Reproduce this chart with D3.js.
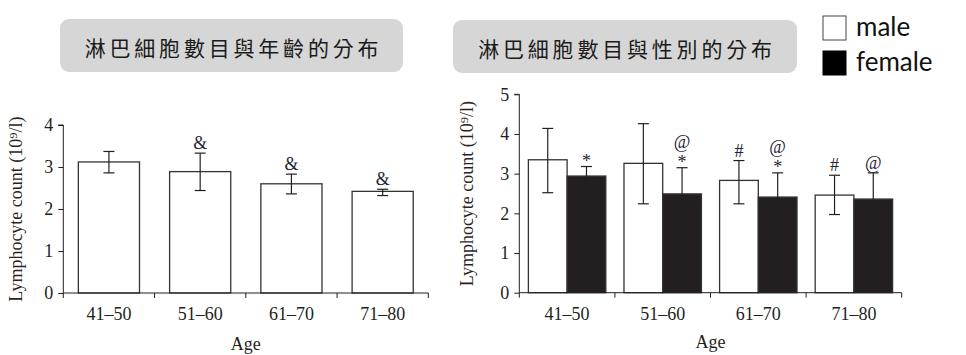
<!DOCTYPE html>
<html><head><meta charset="utf-8">
<script src="https://cdn.jsdelivr.net/npm/d3@7"></script>
<style>
html,body{margin:0;padding:0;background:#fff;}
svg{display:block;}
</style></head>
<body>
<svg id="chart" width="966" height="355"></svg>
<script>
// ---- Data ----
const ageGroups = ["41\u201350", "51\u201360", "61\u201370", "71\u201380"];
const ageMean = [3.12, 2.89, 2.60, 2.42];
const ageErrHigh = [3.37, 3.33, 2.83, 2.47];
const ageErrLow = [2.86, 2.44, 2.36, 2.32];
const ageMarks = [[], ["&"], ["&"], ["&"]];
const ageTicks = [0, 1, 2, 3, 4];

const sexes = ["male", "female"];
const maleMean = [3.35, 3.26, 2.83, 2.46];
const maleErrHigh = [4.14, 4.26, 3.33, 2.96];
const maleErrLow = [2.52, 2.24, 2.24, 1.97];
const maleMarks = [[], [], ["#"], ["#"]];
const femaleMean = [2.94, 2.49, 2.41, 2.36];
const femaleErrHigh = [3.18, 3.15, 3.02, 3.02];
const femaleErrLow = [2.70, 1.83, 1.80, 1.70];
const femaleMarks = [["*"], ["*", "@"], ["*", "@"], ["@"]];
const sexTicks = [0, 1, 2, 3, 4, 5];

const titleLeft = "淋巴細胞數目與年齡的分布";
const titleRight = "淋巴細胞數目與性別的分布";
const yLabel = "Lymphocyte count (10\u2079/l)";
const xLabel = "Age";

// ---- Drawing ----
const svg = d3.select("#chart");
const ink = "#231f20";
const serif = "'Liberation Serif','DejaVu Serif',serif";
const fs = 18;

function titleBox(x, y, w, h, text) {
  svg.append("rect").attr("x", x).attr("y", y).attr("width", w).attr("height", h)
    .attr("rx", 9).attr("fill", "#d6d6d6");
  svg.append("text").attr("x", x + w / 2 + 2).attr("y", y + h / 2 + 1)
    .attr("text-anchor", "middle").attr("dominant-baseline", "central")
    .attr("font-family", "'Noto Sans CJK TC','Noto Sans CJK SC',sans-serif")
    .attr("font-size", 21).attr("letter-spacing", 3.8).attr("fill", "#1a1a1a")
    .text(text);
}

function axes(g, x, y, ticks, xRange, yRange, labelX, ageY) {
  const ya = d3.axisLeft(y).tickValues(ticks).tickSize(5).tickPadding(5).tickFormat(d3.format("d"));
  const gy = g.append("g").attr("transform", `translate(${xRange[0]},0)`).call(ya);
  gy.select(".domain").attr("d", `M-5,${yRange[1]}H0V${yRange[0]}`);
  gy.selectAll("line").attr("stroke", ink);
  gy.select(".domain").attr("stroke", ink);
  gy.selectAll("text").attr("font-family", serif).attr("font-size", fs).attr("fill", ink);
  const gx = g.append("g");
  gx.append("line").attr("x1", xRange[0]).attr("x2", xRange[1])
    .attr("y1", yRange[0]).attr("y2", yRange[0]).attr("stroke", ink);
  const step = x.step();
  d3.range(ageGroups.length + 1).forEach(i => {
    const xx = xRange[0] + i * step;
    gx.append("line").attr("x1", xx).attr("x2", xx).attr("y1", yRange[0]).attr("y2", yRange[0] + 5).attr("stroke", ink);
  });
  gx.selectAll("text.cat").data(x.domain()).join("text").attr("class", "cat")
    .attr("x", d => x(d) + x.bandwidth() / 2).attr("y", yRange[0] + 27)
    .attr("text-anchor", "middle").attr("font-family", serif).attr("font-size", fs).attr("fill", ink)
    .text(d => d);
  g.append("text").attr("x", (xRange[0] + xRange[1]) / 2).attr("y", yRange[0] + ageY)
    .attr("text-anchor", "middle").attr("font-family", serif).attr("font-size", fs).attr("fill", ink)
    .text(xLabel);
  g.append("text").attr("transform", `translate(${labelX},${(yRange[0] + yRange[1]) / 2}) rotate(-90)`)
    .attr("text-anchor", "middle").attr("font-family", serif).attr("font-size", fs).attr("fill", "#2b1f1f")
    .text(yLabel);
}

function errBar(g, cx, yHi, yLo, capW) {
  g.append("line").attr("x1", cx).attr("x2", cx).attr("y1", yHi).attr("y2", yLo).attr("stroke", ink).attr("stroke-width", 1.2);
  g.append("line").attr("x1", cx - capW).attr("x2", cx + capW).attr("y1", yHi).attr("y2", yHi).attr("stroke", ink).attr("stroke-width", 1.2);
  g.append("line").attr("x1", cx - capW).attr("x2", cx + capW).attr("y1", yLo).attr("y2", yLo).attr("stroke", ink).attr("stroke-width", 1.2);
}

function marks(g, cx, yTop, list) {
  list.forEach((m, i) => {
    const extra = m === "*" ? 4 : 0;
    g.append("text").attr("x", cx).attr("y", yTop - 4 - i * 16 + extra)
      .attr("text-anchor", "middle").attr("font-family", serif).attr("font-size", fs).attr("fill", "#1f2533")
      .text(m);
  });
}

// ---- Left chart ----
titleBox(60, 19, 343, 53, titleLeft);
{
  const xr = [63.3, 428.3], yr = [293, 125];
  const x = d3.scaleBand().domain(ageGroups).range(xr).paddingInner(0.33).paddingOuter(0.165);
  const y = d3.scaleLinear().domain([0, 4]).range(yr);
  const g = svg.append("g");
  g.selectAll("rect.bar").data(ageGroups).join("rect").attr("class", "bar")
    .attr("x", d => x(d)).attr("width", x.bandwidth())
    .attr("y", (d, i) => y(ageMean[i])).attr("height", (d, i) => y(0) - y(ageMean[i]))
    .attr("fill", "#fff").attr("stroke", "#333").attr("stroke-width", 1.3);
  ageGroups.forEach((d, i) => {
    const cx = x(d) + x.bandwidth() / 2;
    errBar(g, cx, y(ageErrHigh[i]), y(ageErrLow[i]), 5.5);
    marks(g, cx, y(ageErrHigh[i]), ageMarks[i]);
  });
  axes(g, x, y, ageTicks, xr, yr, 22, 57);
}

// ---- Right chart ----
titleBox(453, 20, 344, 53, titleRight);
{
  const xr = [519.3, 901.7], yr = [292.7, 94.3];
  const x = d3.scaleBand().domain(ageGroups).range(xr).paddingInner(0.19).paddingOuter(0.095);
  const xs = d3.scaleBand().domain(sexes).range([0, x.bandwidth()]);
  const y = d3.scaleLinear().domain([0, 5]).range(yr);
  const g = svg.append("g");
  const series = [
    {key: "male", mean: maleMean, hi: maleErrHigh, lo: maleErrLow, mk: maleMarks, fill: "#fff"},
    {key: "female", mean: femaleMean, hi: femaleErrHigh, lo: femaleErrLow, mk: femaleMarks, fill: "#231f20"}
  ];
  series.forEach(s => {
    g.selectAll("rect.b" + s.key).data(ageGroups).join("rect").attr("class", "b" + s.key)
      .attr("x", d => x(d) + xs(s.key)).attr("width", xs.bandwidth())
      .attr("y", (d, i) => y(s.mean[i])).attr("height", (d, i) => y(0) - y(s.mean[i]))
      .attr("fill", s.fill).attr("stroke", "#333").attr("stroke-width", 1.3);
  });
  series.forEach(s => {
    ageGroups.forEach((d, i) => {
      const cx = x(d) + xs(s.key) + xs.bandwidth() / 2;
      errBar(g, cx, y(s.hi[i]), y(s.lo[i]), 5.5);
      marks(g, cx, y(s.hi[i]), s.mk[i]);
    });
  });
  axes(g, x, y, sexTicks, xr, yr, 473, 55);
}

// ---- Legend ----
const legendFont = "Lato,'Open Sans',sans-serif";
sexes.forEach((s, i) => {
  const yy = 16 + i * 35;
  svg.append("rect").attr("x", 823).attr("y", yy).attr("width", 23).attr("height", 24)
    .attr("fill", s === "male" ? "#fff" : "#000").attr("stroke", s === "male" ? "#444" : "#000").attr("stroke-width", 1);
  svg.append("text").attr("x", 856).attr("y", yy + 20)
    .attr("font-family", legendFont).attr("font-size", 26).attr("fill", "#111").text(s);
});
</script>
</body></html>
